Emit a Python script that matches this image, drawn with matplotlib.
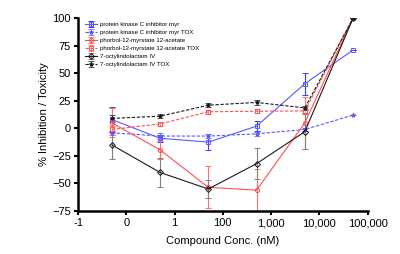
import matplotlib
matplotlib.use("Agg")
import matplotlib.pyplot as plt
import numpy as np

plt.rcParams['font.family'] = ['Liberation Sans', 'DejaVu Sans']

# x positions are log10 of concentration (nM)
log_conc = [-0.3, 0.7, 1.7, 2.7, 3.7, 4.7]
x_ticks = [-1, 0, 1, 2, 3, 4, 5]
x_tick_labels = ['-1', '0', '1', '100', '1,000', '10,000', '100,000']
y_ticks = [-75, -50, -25, 0, 25, 50, 75, 100]

names = ['protein kinase C inhibitor myr',
         'protein kinase C inhibitor myr TOX',
         'phorbol-12-myrstate 12-acetate',
         'phorbol-12-myrstate 12-acetate TOX',
         '7-octylindolactam IV',
         '7-octylindolactam IV TOX']

pkc = [8, -9, -12.5, 2, 40.5, 71]
pkc_err = [11, 3, 7, 4.5, 10, 0]
pkc_tox = [-4, -7, -7, -5, -1, 12]
pkc_tox_err = [2, 3, 2, 1.5, 1, 0]
pma = [5, -19.5, -53.5, -56, 5, 100]
pma_err = [13, 8, 19, 19, 23.5, 0]
pma_tox = [-1, 4, 15, 15.5, 15.8, 100]
pma_tox_err = [3, 2, 2, 2, 2, 0]
ocl = [-15, -40, -55, -32, -3, 100]
ocl_err = [13, 13, 8, 14, 16, 0]
ocl_tox = [9, 11, 21, 23.5, 18.5, 100]
ocl_tox_err = [3, 2, 2, 2, 2, 0]

blue = '#5a5aff'
red = '#ff4f4f'
black = '#1a1a1a'

series = [
    (pkc, pkc_err, blue, '-', 's', 'none', '#3a3aff'),
    (pkc_tox, pkc_tox_err, blue, '--', '*', 'none', '#8080ff'),
    (pma, pma_err, red, '-', 'o', 'none', '#ff7070'),
    (pma_tox, pma_tox_err, red, '--', 's', 'none', '#ff8080'),
    (ocl, ocl_err, black, '-', 'D', 'none', '#808080'),
    (ocl_tox, ocl_tox_err, black, '--', '*', black, '#555555'),
]

fig = plt.figure(figsize=(4.0, 2.54), dpi=100)
ax = fig.add_axes([0.195, 0.169, 0.724, 0.760])

for (vals, errs, col, ls, mk, mfc, ecol), name in zip(series, names):
    ax.errorbar(log_conc, vals, yerr=errs, color=col, linestyle=ls, linewidth=0.8,
                marker=mk, markersize=3, markerfacecolor=mfc, markeredgewidth=0.7,
                ecolor=ecol, elinewidth=0.8, capsize=2, capthick=0.8,
                dashes=(3, 1.5) if ls == '--' else (None, None), label=name)

ax.set_xlim(-1, 5)
ax.set_ylim(-75, 100)
ax.set_xticks(x_ticks)
ax.set_xticklabels(x_tick_labels)
ax.set_yticks(y_ticks)
ax.spines['top'].set_visible(False)
ax.spines['right'].set_visible(False)
ax.spines['left'].set_linewidth(1.8)
ax.spines['bottom'].set_linewidth(1.8)
ax.tick_params(axis='both', direction='out', width=1.5, length=3, labelsize=8, pad=2)
ax.set_xlabel('Compound Conc. (nM)', fontsize=8, labelpad=6)
ax.set_ylabel('% Inhibition / Toxicity', fontsize=8, labelpad=2)

handles, labels = ax.get_legend_handles_labels()
leg = ax.legend(handles, labels, loc='upper left', bbox_to_anchor=(0.01, 1.0),
                frameon=False, fontsize=4.4, handlelength=2.0, handletextpad=0.6,
                labelspacing=0.45, borderaxespad=0.2)

fig.savefig('out.png', dpi=100)
